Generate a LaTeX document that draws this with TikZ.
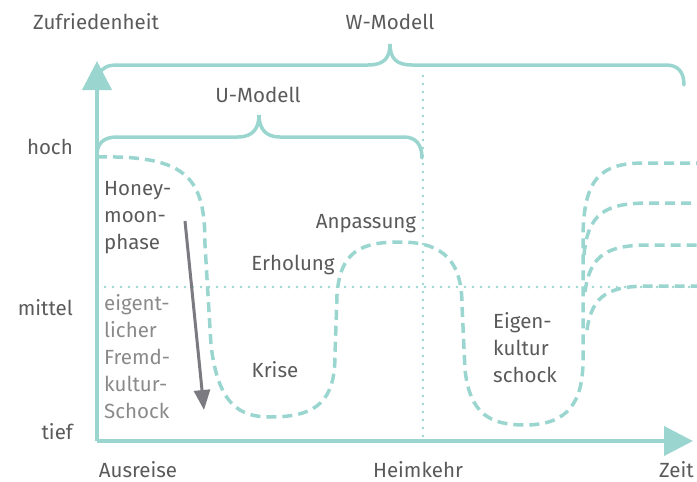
\documentclass[tikz,border=0pt]{standalone}
\usepackage{fontspec}
\setmainfont{Fira Sans}
\usepackage{tikz}
\usetikzlibrary{arrows.meta}
\usetikzlibrary{positioning}
\definecolor{teal}{HTML}{9AD6CF}
\definecolor{txt}{HTML}{5A5A5A}
\definecolor{txtlight}{HTML}{8A8A8A}
\definecolor{arrgray}{HTML}{7A7A80}
\tikzstyle{axis}=[draw=teal, line width=4pt, -{Triangle[width=29pt,length=29pt]}]
\tikzstyle{brace}=[draw=teal, line width=3.5pt, line cap=round]
\tikzstyle{curve}=[draw=teal, line width=3.5pt, dash pattern=on 10pt off 6pt]
\tikzstyle{guide}=[draw=teal, line width=2.8pt, line cap=round, dash pattern=on 0pt off 8pt]
\tikzstyle{lbl}=[text=txt, font=\fontsize{20.5}{27}\selectfont, inner sep=0pt]
\tikzstyle{lbllight}=[lbl, text=txtlight]

\begin{document}
\begin{tikzpicture}[x=1pt, y=-1pt]
    \useasboundingbox (0,0) rectangle (697,482);
    % guides
    \draw[guide] (97,287) -- (697,287);
    \draw[guide] (423,76) -- (423,438);
    % axes
    \coordinate (o) at (97,441);
    \coordinate (ytop) at (97,61);
    \coordinate (xend) at (693,441);
    \draw[axis] (o) -- (ytop);
    \draw[axis] (o) -- (xend);
    % W-Modell
    \draw[brace] (99,74) .. controls (103,67) and (108,65) .. (118,65) -- (368,65)
      .. controls (384,65) and (390,58) .. (390,44)
      .. controls (390,58) and (396,65) .. (412,65) -- (666,65)
      .. controls (678,65) and (684,72) .. (684,85);
    % U-Modell
    \draw[brace] (97,155) .. controls (97,143) and (104,137) .. (117,137) -- (238,137)
      .. controls (253,137) and (259,128) .. (259,115)
      .. controls (259,128) and (265,137) .. (280,137) -- (404,137)
      .. controls (416,137) and (422,145) .. (422,158);
    % Verlauf
    \draw[curve] (97,157) .. controls (190,155) and (205,180) .. (205,245)
      -- (211,345) .. controls (218,405) and (240,417) .. (270,417)
      .. controls (318,417) and (335,400) .. (335,355)
      -- (337,295) .. controls (340,252) and (360,242) .. (400,242)
      .. controls (444,242) and (462,262) .. (462,305)
      -- (465,370) .. controls (470,414) and (490,425) .. (525,425)
      .. controls (568,425) and (583,402) .. (583,360)
      -- (583,240) .. controls (583,178) and (600,163) .. (645,163) -- (697,163);
    \draw[curve] (584,255) .. controls (588,213) and (605,203) .. (650,203) -- (697,203);
    \draw[curve] (585,292) .. controls (590,254) and (608,245) .. (650,245) -- (697,245);
    \draw[curve] (587,330) .. controls (592,294) and (610,286) .. (650,286) -- (697,286);
    % Abwaertspfeil
    \coordinate (hs) at (185,221);
    \coordinate (he) at (204,410);
    \draw[arrgray, line width=3pt, -{Triangle[width=16pt,length=20pt]}] (hs) -- (he);
    % Achsenbeschriftung
    \node[lbl, anchor=west] (zuf) at (33,22) {Zufriedenheit};
    \node[lbl, anchor=east] (hoch) at (73,147) {hoch};
    \node[lbl, anchor=east] (mittel) at (73,308) {mittel};
    \node[lbl, anchor=east] (tief) at (73,432) {tief};
    \node[lbl] (aus) at (138,470) {Ausreise};
    \node[lbl] (heim) at (418,470) {Heimkehr};
    \node[lbl, anchor=west] (zeit) at (659,470) {Zeit};
    \node[lbl] (wmod) at (390,22) {W-Modell};
    \node[lbl] (umod) at (258,95) {U-Modell};
    % Phasen
    \node[lbl, align=left, anchor=north west] (honey) at (104,181) {Honey-\\moon-\\phase};
    \node[lbllight, align=left, anchor=north west] (fremd) at (104,294) {eigent-\\licher\\Fremd-\\kultur-\\Schock};
    \node[lbl] (krise) at (275,370) {Krise};
    \node[lbl] (erh) at (293,265) {Erholung};
    \node[lbl] (anp) at (366,224) {Anpassung};
    \node[lbl, align=left, anchor=north west] (eigen) at (493,312) {Eigen-\\kultur\\schock};
\end{tikzpicture}
\end{document}
